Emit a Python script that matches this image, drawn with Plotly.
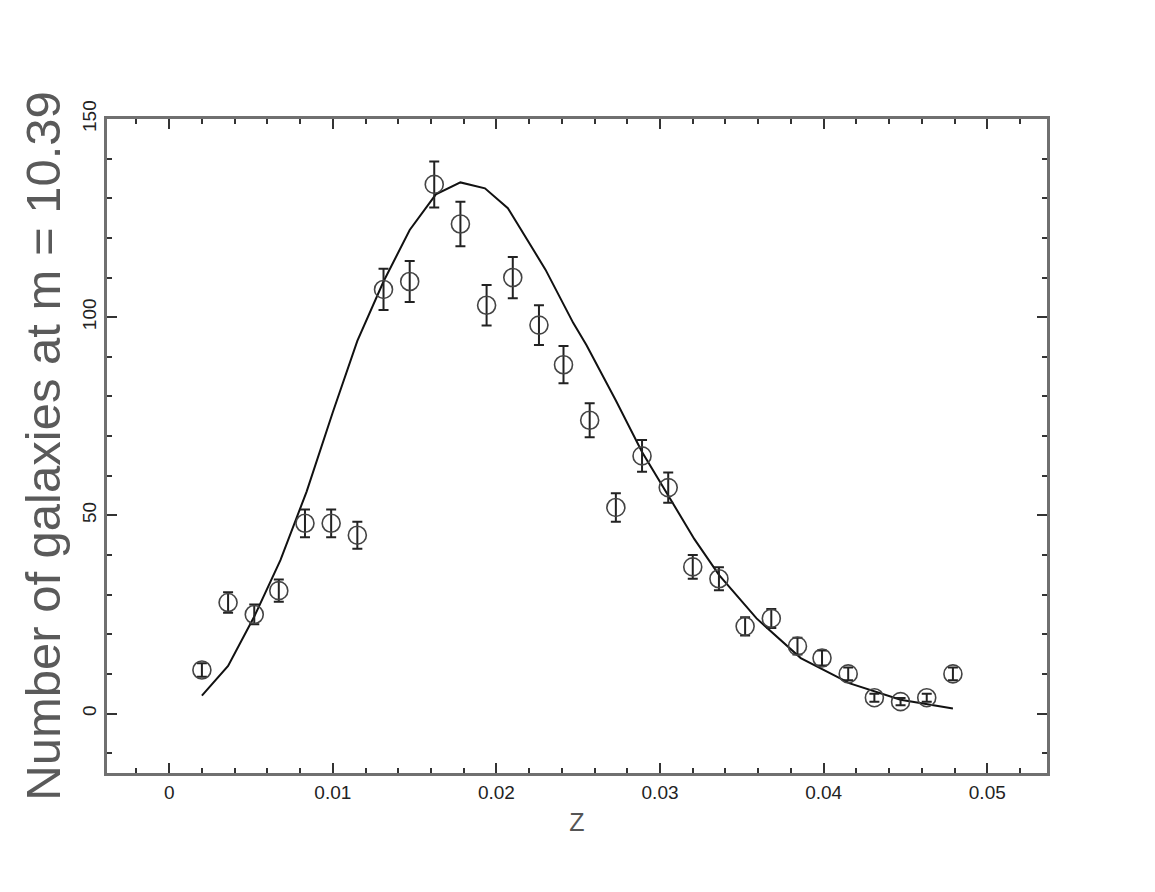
import plotly.graph_objects as go

# Observed data (redshift bins)
z_obs = [0.0020, 0.0036, 0.0052, 0.0067, 0.0083, 0.0099, 0.0115, 0.0131, 0.0147, 0.0162,
         0.0178, 0.0194, 0.0210, 0.0226, 0.0241, 0.0257, 0.0273, 0.0289, 0.0305, 0.0320,
         0.0336, 0.0352, 0.0368, 0.0384, 0.0399, 0.0415, 0.0431, 0.0447, 0.0463, 0.0479]
n_obs = [11, 28, 25, 31, 48, 48, 45, 107, 109, 133.5,
         123.5, 103, 110, 98, 88, 74, 52, 65, 57, 37,
         34, 22, 24, 17, 14, 10, 4, 3, 4, 10]
n_err = [1.7, 2.6, 2.5, 2.8, 3.5, 3.5, 3.4, 5.2, 5.2, 5.8,
         5.6, 5.1, 5.2, 5.0, 4.7, 4.3, 3.6, 4.0, 3.8, 3.0,
         2.9, 2.3, 2.4, 2.1, 1.9, 1.6, 1.0, 0.9, 1.0, 1.6]

# Model curve
z_model = [0.0020, 0.0036, 0.0052, 0.0068, 0.0084, 0.0100, 0.0115, 0.0131, 0.0147, 0.0163,
           0.0178, 0.0193, 0.0207, 0.0230, 0.0247, 0.0255, 0.0273, 0.0289, 0.0305, 0.0321,
           0.0336, 0.0359, 0.0386, 0.0416, 0.0447, 0.0479]
n_model = [4.5, 12, 24.5, 38.7, 56, 76, 94, 109, 122, 131,
           134, 132.5, 127.5, 112, 98.5, 93, 79, 66, 55, 44,
           35, 24, 14, 7.6, 3.5, 1.3]

x_tickvals = [0, 0.01, 0.02, 0.03, 0.04, 0.05]
x_ticktext = ["0", "0.01", "0.02", "0.03", "0.04", "0.05"]
y_tickvals = [0, 50, 100, 150]
y_ticktext = ["0", "50", "100", "150"]

fig = go.Figure()
fig.add_trace(go.Scatter(
    x=z_model, y=n_model, mode="lines",
    line=dict(color="#111111", width=2),
    showlegend=False, hoverinfo="skip"))
fig.add_trace(go.Scatter(
    x=z_obs, y=n_obs, mode="markers",
    marker=dict(symbol="circle-open", size=18, color="#444444", line=dict(width=1.6, color="#444444")),
    error_y=dict(type="data", array=n_err, visible=True, color="#222222", thickness=2, width=5),
    showlegend=False))

axis_common = dict(
    showline=True, linecolor="#707070", linewidth=3, mirror="allticks",
    ticks="inside", ticklen=10, tickwidth=1.5, tickcolor="#333333",
    showgrid=False, zeroline=False,
    tickfont=dict(family="Liberation Sans Narrow, Arial Narrow, sans-serif", size=19, color="#222222"),
)

fig.update_xaxes(
    range=[-0.0038, 0.05365],
    tickvals=x_tickvals, ticktext=x_ticktext,
    minor=dict(dtick=0.002, tick0=0, ticks="inside", ticklen=5, tickcolor="#333333", tickwidth=1.5),
    title=dict(text="Z", font=dict(family="Liberation Sans, Arial, sans-serif", size=25, color="#555555"), standoff=12),
    **axis_common)
fig.update_yaxes(
    range=[-15, 150],
    tickvals=y_tickvals, ticktext=y_ticktext, tickangle=-90,
    minor=dict(dtick=10, tick0=0, ticks="inside", ticklen=5, tickcolor="#333333", tickwidth=1.5),
    title=dict(text="Number of galaxies at m = 10.39",
               font=dict(family="Liberation Sans, Arial, sans-serif", size=49, color="#5a5a5a"), standoff=4),
    **axis_common)

fig.update_layout(
    width=1155, height=892,
    margin=dict(l=107, r=108, t=119, b=119),
    paper_bgcolor="white", plot_bgcolor="white",
)

fig.write_html("out.html")
